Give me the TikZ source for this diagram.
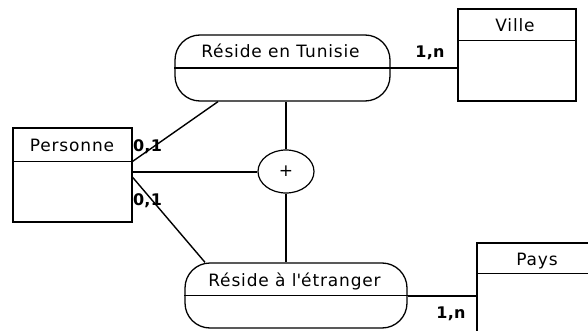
\documentclass[tikz,border=0pt]{standalone}
\usepackage{fontspec}
\setmainfont{DejaVu Sans}
\newfontfamily\boxfont{DejaVu Sans}[LetterSpace=5]
\newfontfamily\cardfont{DejaVu Sans}[LetterSpace=2]
\usetikzlibrary{shapes.geometric}
\begin{document}
\begin{tikzpicture}[x=1pt,y=-1pt,
  entity/.style={draw, line width=1.3pt, rectangle, inner sep=0pt},
  assoc/.style={draw, line width=1.3pt, rectangle, rounded corners=25pt, inner sep=0pt},
  ell/.style={draw, line width=1.2pt, ellipse, inner sep=0pt, minimum width=56pt, minimum height=43pt, font=\fontsize{17}{20}\selectfont},
  title/.style={font=\boxfont\fontsize{17}{20}\selectfont, inner sep=0pt, anchor=base},
  card/.style={font=\cardfont\bfseries\fontsize{16}{18}\selectfont, inner sep=0pt, anchor=base},
  divider/.style={line width=1.3pt},
  link/.style={line width=2pt},
  diag/.style={line width=1.4pt}]
\useasboundingbox (0,0) rectangle (588,331);
\clip (0,0) rectangle (588,331);
\fill[white] (0,0) rectangle (588,331);

% entities
\node[entity, minimum width=119pt, minimum height=94pt] (p) at (72.5,175) {};
\node[entity, minimum width=118pt, minimum height=92pt] (v) at (517,55) {};
\node[entity, minimum width=120pt, minimum height=92pt] (pa) at (537,289) {};
\draw[divider] ([yshift=-34pt]p.north west) -- ([yshift=-34pt]p.north east);
\draw[divider] ([yshift=-32pt]v.north west) -- ([yshift=-32pt]v.north east);
\draw[divider] ([yshift=-31pt]pa.north west) -- ([yshift=-31pt]pa.north east);
\node[title] (pt) at (72,152) {Personne};
\node[title] (vt) at (515,32) {Ville};
\node[title] (pat) at (537,265) {Pays};

% associations
\node[assoc, minimum width=215pt, minimum height=66pt] (t) at (282.5,68) {};
\node[assoc, minimum width=222pt, minimum height=65pt] (e) at (296,295.5) {};
\draw[divider] (t.west) -- (t.east);
\draw[divider] (e.west) -- (e.east);
\node[title] (tt) at (280.5,58) {Réside en Tunisie};
\node[title] (et) at (294.5,286) {Réside à l\textquotesingle étranger};

% exclusion
\node[ell] (c) at (286,171.5) {\raisebox{-3pt}{+}};

% connectors
\draw[link] (t.east) -- (t.east -| v.west);
\draw[link] (e.east) -- (e.east -| pa.west);
\draw[link] (c.west) -- (c.west -| p.east);
\draw[link] (c.north) -- (c.north |- t.south);
\draw[link] (c.south) -- (c.south |- e.north);
\draw[diag] ([yshift=-34pt]p.north east) -- ([xshift=-64.5pt]t.south);
\draw[diag] ([yshift=-50pt]p.north east) -- ([xshift=-91pt]e.north);

% cardinalities
\node[card] (c1) at (430,58) {1,n};
\node[card] (c2) at (451,318) {1,n};
\node[card] (c3) at (147.5,152) {0,1};
\node[card] (c4) at (147.5,205) {0,1};
\end{tikzpicture}
\end{document}
